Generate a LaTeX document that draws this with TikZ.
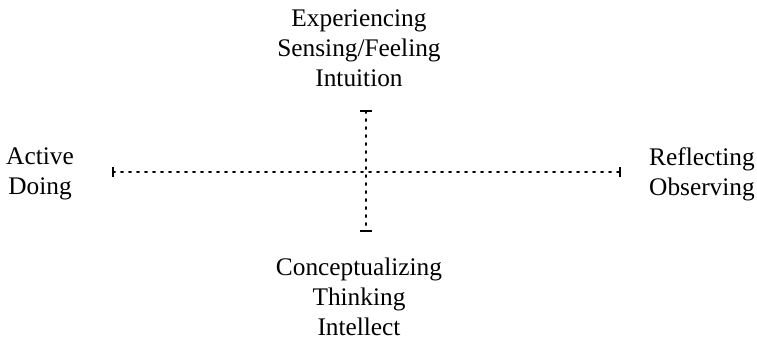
\documentclass[tikz,border=0pt]{standalone}
\usepackage{fontspec}
\setmainfont{Liberation Serif}
\usepackage{tikz}

\tikzset{
  pole/.style={align=center, font=\fontsize{19}{22.5}\selectfont, inner sep=0pt},
  axis/.style={line width=1.5pt, dash pattern=on 1.5pt off 4.5pt, line cap=round},
  stopbar/.style={line width=1.8pt}
}

\begin{document}
\begin{tikzpicture}[x=0.75pt, y=-0.75pt]
				\useasboundingbox (0,0) rectangle (757,344);
				% axis ends
				\coordinate (c) at (366,172);
				\coordinate (west) at (113,172);
				\coordinate (east) at (620,172);
				\coordinate (north) at (366,111);
				\coordinate (south) at (366,231);
				% dotted axes
				\draw[axis] (west) -- (east);
				\draw[axis] (north) -- (south);
				% end bars
				\draw[stopbar] ([yshift=-4pt]west) -- ([yshift=4pt]west);
				\draw[stopbar] ([yshift=-4pt]east) -- ([yshift=4pt]east);
				\draw[stopbar] ([xshift=-4.5pt]north) -- ([xshift=4.5pt]north);
				\draw[stopbar] ([xshift=-4.5pt]south) -- ([xshift=4.5pt]south);
				% labels
				\node[pole] (experience) at (359,48) {Experiencing\\Sensing/Feeling\\Intuition};
				\node[pole] (concept) at (359,297) {Conceptualizing\\Thinking\\Intellect};
				\node[pole] (active) at (40,174) {Active\\Doing};
				\node[pole] (reflect) at (702,174) {Reflecting\\Observing};
			\end{tikzpicture}
\end{document}
